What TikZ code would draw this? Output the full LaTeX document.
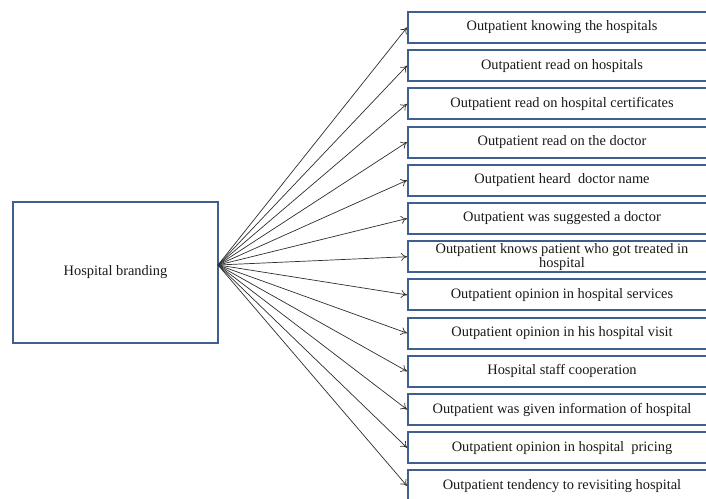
\documentclass[tikz,border=0pt]{standalone}
\usepackage{fontspec}
\setmainfont{Liberation Serif}
\usetikzlibrary{arrows.meta}
\definecolor{BoxBorder}{RGB}{62,96,145}
\definecolor{ArrowGray}{RGB}{45,45,45}
\definecolor{LabelText}{RGB}{25,25,25}
\tikzset{
  every node/.style={font=\fontsize{14.4}{13}\selectfont, text=LabelText},
  arr/.style={-{To[length=6pt,width=8pt]}, line width=0.7pt, ArrowGray},
  brandbox/.style={draw=BoxBorder, line width=2pt, fill=white,
                   minimum width=205pt, minimum height=141pt, align=center},
  itembox/.style={draw=BoxBorder, line width=2pt, fill=white, inner sep=0pt,
                  minimum width=308pt, minimum height=31pt, align=center,
                  yshift=-1pt}
}

\begin{document}
\begin{tikzpicture}[x=1pt,y=1pt]

% Frame of the page
\useasboundingbox (0,0) rectangle (706,498);
\clip (0,0) rectangle (706,498);

% Source box
\node[brandbox] (brand) at (115.5,225.5) {Hospital branding};
\coordinate (hub) at (218,233);

% Indicator boxes
\node[itembox] (know)     at (562,471.5) {Outpatient knowing the hospitals};
\node[itembox] (readhosp) at (562,433.3) {Outpatient read on hospitals};
\node[itembox] (readcert) at (562,395.1) {Outpatient read on hospital certificates};
\node[itembox] (readdoc)  at (562,356.9) {Outpatient read on the doctor};
\node[itembox] (heard)    at (562,318.7) {Outpatient heard~~doctor name};
\node[itembox] (suggest)  at (562,280.5) {Outpatient was suggested a doctor};
\node[itembox] (knowspat) at (562,242.3) {Outpatient knows patient who got treated in\\hospital};
\node[itembox] (services) at (562,204.1) {Outpatient opinion in hospital services};
\node[itembox] (visit)    at (562,165.9) {Outpatient opinion in his hospital visit};
\node[itembox] (staff)    at (562,127.7) {Hospital staff cooperation};
\node[itembox] (info)     at (562,89.5)  {Outpatient was given information of hospital};
\node[itembox] (pricing)  at (562,51.3)  {Outpatient opinion in hospital~~pricing};
\node[itembox] (revisit)  at (562,13.1)  {Outpatient tendency to revisiting hospital};

% Fan of arrows
\draw[arr] (hub) -- (know.west);
\draw[arr] (hub) -- (readhosp.west);
\draw[arr] (hub) -- (readcert.west);
\draw[arr] (hub) -- (readdoc.west);
\draw[arr] (hub) -- (heard.west);
\draw[arr] (hub) -- (suggest.west);
\draw[arr] (hub) -- (knowspat.west);
\draw[arr] (hub) -- (services.west);
\draw[arr] (hub) -- (visit.west);
\draw[arr] (hub) -- (staff.west);
\draw[arr] (hub) -- (info.west);
\draw[arr] (hub) -- (pricing.west);
\draw[arr] (hub) -- (revisit.west);

\end{tikzpicture}
\end{document}
